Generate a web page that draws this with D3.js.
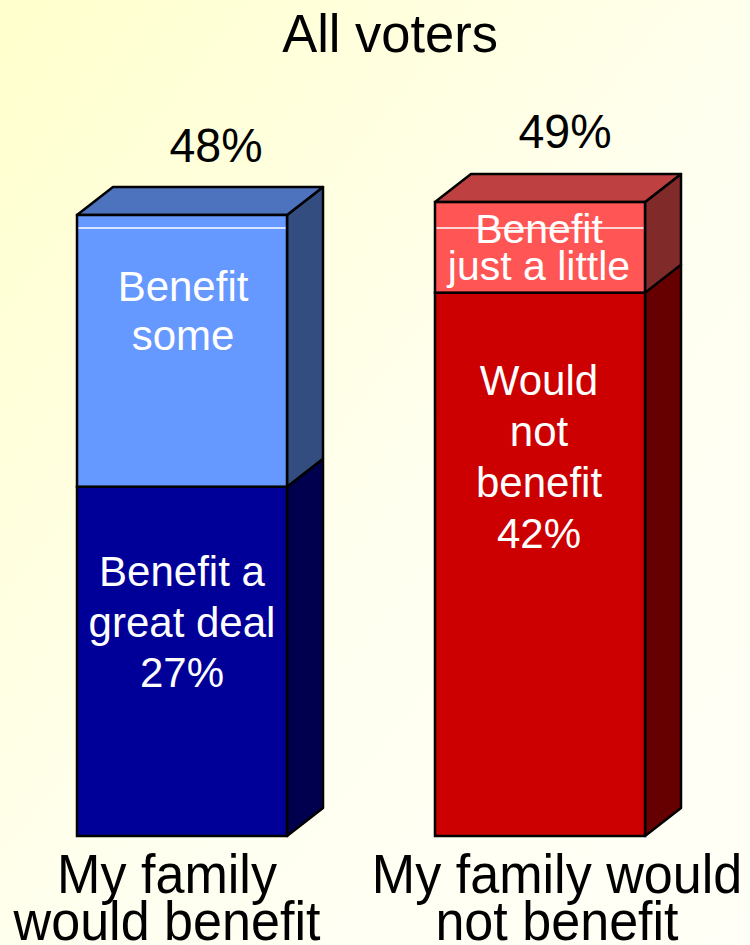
<!DOCTYPE html>
<html>
<head>
<meta charset="utf-8">
<script src="https://cdn.jsdelivr.net/npm/d3@7"></script>
<style>
  html, body { margin: 0; padding: 0; }
  svg { display: block; font-family: "Liberation Sans", Arial, sans-serif; }
</style>
</head>
<body>
<script>
// Categories and stacked segments (percent of all voters)
const categories = ["My family would benefit", "My family would not benefit"];
const categoryLines = [["My family", "would benefit"], ["My family would", "not benefit"]];
const bottomValues = [27, 42];
const topValues = [21, 7];
const totals = [48, 49];
const bottomLabels = [["Benefit a", "great deal", "27%"], ["Would", "not", "benefit", "42%"]];
const topLabels = [["Benefit", "some"], ["Benefit", "just a little"]];
const refLine = 47;

const W = 750, H = 945;
const svg = d3.select("body").append("svg").attr("width", W).attr("height", H);

const defs = svg.append("defs");
const grad = defs.append("linearGradient").attr("id", "bg")
  .attr("x1", "0%").attr("y1", "0%").attr("x2", "100%").attr("y2", "100%");
grad.append("stop").attr("offset", "0%").attr("stop-color", "#ffffcc");
grad.append("stop").attr("offset", "55%").attr("stop-color", "#fffff0");
grad.append("stop").attr("offset", "100%").attr("stop-color", "#fffff7");
svg.append("rect").attr("width", W).attr("height", H).attr("fill", "url(#bg)");

const x = d3.scaleBand().domain(categories).range([77, 645]).paddingInner(0.4134);
const y = d3.scaleLinear().domain([0, 48]).range([836, 215]);
const dx = 36, dy = -28;
const bw = x.bandwidth();

const palette = [
  { bottom: "#000099", bottomSide: "#00004f", top: "#6699ff", topSide: "#334d80", cap: "#4d73bf" },
  { bottom: "#cc0000", bottomSide: "#660000", top: "#ff5555", topSide: "#802a2a", cap: "#bf4040" }
];

const stroke = "#000", sw = 2.5;

// text helper: optional horizontal squeeze
function label(xc, yb, str, fs, fill, sx) {
  return svg.append("text")
    .attr("transform", `translate(${xc},${yb}) scale(${sx || 1},1)`)
    .attr("text-anchor", "middle").attr("font-size", fs).attr("fill", fill).text(str);
}

const totalPos = [[216, 162], [565, 148]];

categories.forEach((c, i) => {
  const x0 = x(c), x1 = x0 + bw;
  const yb = y(0), ym = y(bottomValues[i]), yt = y(bottomValues[i] + topValues[i]);
  const g = svg.append("g");
  const col = palette[i];

  // side faces
  g.append("path")
    .attr("d", `M${x1},${yb} L${x1 + dx},${yb + dy} L${x1 + dx},${ym + dy} L${x1},${ym} Z`)
    .attr("fill", col.bottomSide).attr("stroke", stroke).attr("stroke-width", sw).attr("stroke-linejoin", "round");
  g.append("path")
    .attr("d", `M${x1},${ym} L${x1 + dx},${ym + dy} L${x1 + dx},${yt + dy} L${x1},${yt} Z`)
    .attr("fill", col.topSide).attr("stroke", stroke).attr("stroke-width", sw).attr("stroke-linejoin", "round");
  // top cap
  g.append("path")
    .attr("d", `M${x0},${yt} L${x0 + dx},${yt + dy} L${x1 + dx},${yt + dy} L${x1},${yt} Z`)
    .attr("fill", col.cap).attr("stroke", stroke).attr("stroke-width", sw).attr("stroke-linejoin", "round");
  // front faces
  g.append("rect").attr("x", x0).attr("y", ym).attr("width", bw).attr("height", yb - ym)
    .attr("fill", col.bottom).attr("stroke", stroke).attr("stroke-width", sw);
  g.append("rect").attr("x", x0).attr("y", yt).attr("width", bw).attr("height", ym - yt)
    .attr("fill", col.top).attr("stroke", stroke).attr("stroke-width", sw);

  // thin reference line across the front face
  g.append("line").attr("x1", x0 + 1.5).attr("x2", x1 - 1.5)
    .attr("y1", y(refLine)).attr("y2", y(refLine))
    .attr("stroke", "#fff").attr("stroke-width", 1.5);

  // total label above the bar
  label(totalPos[i][0], totalPos[i][1], totals[i] + "%", 48, "#000", 0.97);
});

// segment labels
const cx = categories.map(c => x(c) + bw / 2);
function lines(xc, y0, lh, arr, fs) {
  arr.forEach((s, k) => label(xc, y0 + k * lh, s, fs, "#fff", 1));
}
lines(cx[0] + 1, 301, 49, topLabels[0], 42);
lines(cx[0], 586, 50.5, bottomLabels[0], 42);
lines(cx[1] - 1, 243, 37, topLabels[1], 41);
lines(cx[1] - 1, 395, 51, bottomLabels[1], 42);

// title
label(390, 52, "All voters", 53, "#000", 0.99);

// category labels
const catX = [167, 557];
categoryLines.forEach((ls, i) => {
  ls.forEach((s, k) => label(catX[i], 893 + k * 47, s, 56, "#000", 0.93));
});
</script>
</body>
</html>
